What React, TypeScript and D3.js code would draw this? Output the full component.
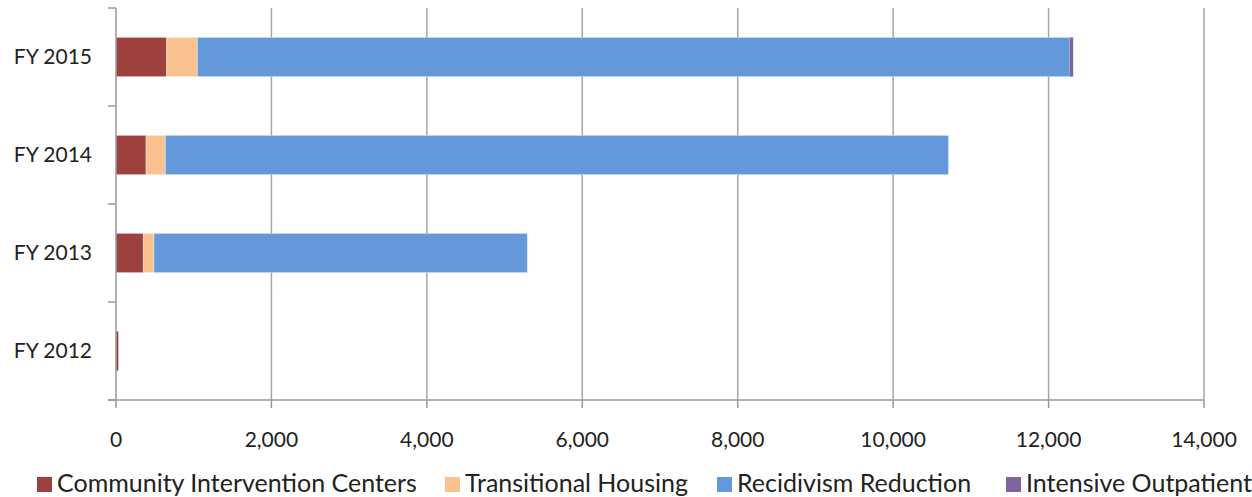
import * as d3 from 'd3'

// Stacked horizontal bars, one row per fiscal year (top = most recent)
const years = ['FY 2015', 'FY 2014', 'FY 2013', 'FY 2012']
const seriesNames = ['Community Intervention Centers', 'Transitional Housing', 'Recidivism Reduction', 'Intensive Outpatient']
const community = [652, 386, 352, 30]
const transitional = [395, 249, 137, 0]
const recidivism = [11223, 10077, 4804, 0]
const outpatient = [47, 0, 0, 0]
const xTicks = [0, 2000, 4000, 6000, 8000, 10000, 12000, 14000]
const colors = ['#9E413E', '#FAC291', '#6399DA', '#8064A2']

const W = 1252, H = 497
const M = { top: 8, right: 48, bottom: 97, left: 116 }
const FONT = 'Lato, "Open Sans", sans-serif'

export default function App() {
  const x = d3.scaleLinear().domain([0, 14000]).range([M.left, W - M.right])
  const y = d3.scaleBand().domain(years).range([M.top, H - M.bottom]).paddingInner(0.6).paddingOuter(0.3)
  const step = y.step()
  const rows = years.map((yr, i) => ({
    yr, vals: [community[i], transitional[i], recidivism[i], outpatient[i]],
  }))
  const stack = d3.stack<any>().keys(['0', '1', '2', '3']).value((d, k) => d.vals[+k])
  const layers = stack(rows)
  const bottom = H - M.bottom
  const bounds = d3.range(years.length + 1).map(i => M.top + i * step)

  const legendX = [37, 445, 717, 1006]

  return (
    <svg width={W} height={H} style={{ position: 'absolute', left: 0, top: 0 }}>
      {/* gridlines */}
      {xTicks.slice(1).map(t => (
        <line key={t} x1={x(t)} x2={x(t)} y1={M.top} y2={bottom} stroke="#A6A6A6" strokeWidth={1.5} />
      ))}
      {/* bars */}
      {layers.map((layer, si) => (
        <g key={si} fill={colors[si]}>
          {layer.map((d, i) => {
            const w = x(d[1]) - x(d[0])
            if (w <= 0) return null
            return (
              <rect key={i} x={x(d[0])} y={y(years[i])!} width={w} height={y.bandwidth()}
                stroke={w > 4 ? '#ffffff' : 'none'} strokeOpacity={0.35} strokeWidth={1} />
            )
          })}
        </g>
      ))}
      {/* axes */}
      <line x1={M.left} x2={M.left} y1={M.top} y2={bottom} stroke="#999" strokeWidth={1.5} />
      <line x1={M.left - 8} x2={x(14000)} y1={bottom} y2={bottom} stroke="#999" strokeWidth={1.5} />
      {bounds.map((b, i) => (
        <line key={i} x1={M.left - 8} x2={M.left} y1={b} y2={b} stroke="#999" strokeWidth={1.5} />
      ))}
      {xTicks.map(t => (
        <line key={t} x1={x(t)} x2={x(t)} y1={bottom} y2={bottom + 8} stroke="#999" strokeWidth={1.5} />
      ))}
      {xTicks.map(t => (
        <text key={t} x={x(t)} y={bottom + 47} textAnchor="middle" fontFamily={FONT} fontSize={21} fill="#222">
          {d3.format(',')(t)}
        </text>
      ))}
      {years.map(yr => (
        <text key={yr} x={M.left - 24} y={y(yr)! + y.bandwidth() / 2 + 7} textAnchor="end" fontFamily={FONT} fontSize={21} fill="#222">
          {yr}
        </text>
      ))}
      {/* legend */}
      {seriesNames.map((s, i) => (
        <g key={s}>
          <rect x={legendX[i]} y={477} width={15} height={15} fill={colors[i]} />
          <text x={legendX[i] + 20} y={492} fontFamily={FONT} fontSize={25} fill="#222">{s}</text>
        </g>
      ))}
    </svg>
  )
}
